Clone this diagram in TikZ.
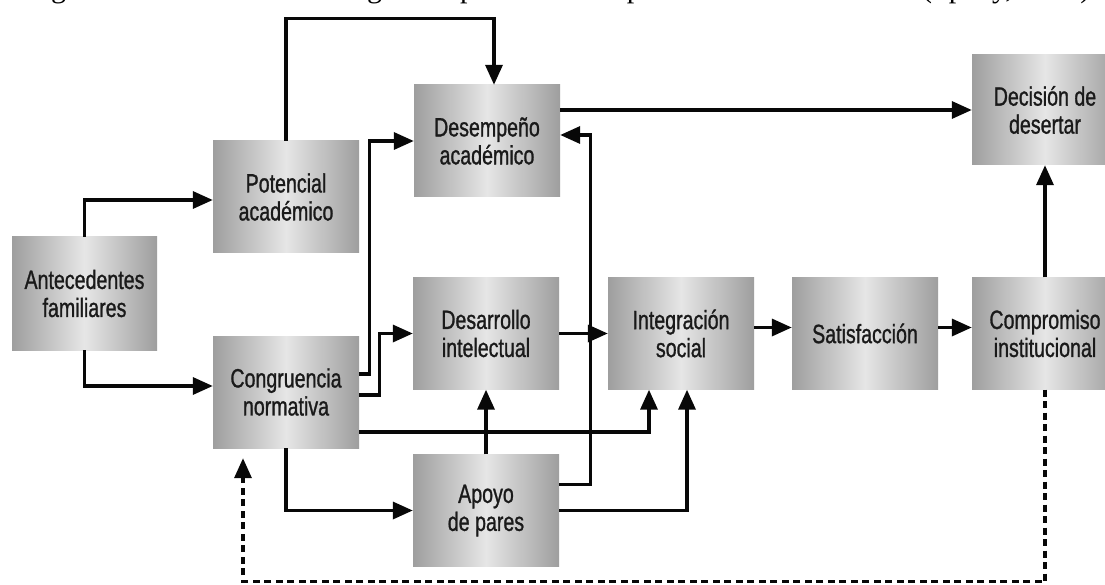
\documentclass[tikz,border=0pt]{standalone}
\usepackage{fontspec}
\setmainfont{Liberation Sans}[FakeStretch=0.74,FakeBold=1.0]
\newfontfamily\capfont{Liberation Serif}
\usetikzlibrary{arrows.meta,calc}
\definecolor{boxdark}{HTML}{9E9E9E}
\definecolor{boxlight}{HTML}{E6E6E6}
\definecolor{textc}{HTML}{1A1A1A}
\definecolor{linec}{HTML}{080808}
\begin{document}
\begin{tikzpicture}[x=1pt,y=-1pt,
  box/.style={minimum width=146pt, minimum height=112pt, inner sep=0pt, align=center,
    left color=boxdark, right color=boxdark, middle color=boxlight, text=textc,
    font=\fontsize{26.5}{28}\selectfont},
  arr/.style={line width=3.4pt, draw=linec, -{Triangle[length=20pt,width=17pt]}},
  darr/.style={arr, dash pattern=on 7pt off 4.5pt},
  captext/.style={anchor=base west, inner sep=0pt, font=\capfont\fontsize{30}{32}\selectfont, text=black}]
\useasboundingbox (0,0) rectangle (1105,585);
\clip (0,0) rectangle (1105,585);
\fill[white] (0,0) rectangle (1105,585);

% clipped caption line (only descenders visible)
\node[captext] (c1) at (26,-2.5) {Figura 2. Modelo de la};
\node[captext] (c2) at (322,-2.5) {integración};
\node[captext] (c3) at (460,-2.5) {proceso};
\node[captext] (c4) at (600,-2.5) {superior en la universidad};
\node[captext] (c5) at (922,-2.5) {(Spady, 1970)};

% boxes
\node[box, minimum width=145pt, minimum height=113pt] (ant) at (84.5,293.5) {Antecedentes\\familiares};
\node[box] (pot) at (286,197) {Potencial\\académico};
\node[box] (con) at (286,392) {Congruencia\\normativa};
\node[box] (des) at (487,141) {Desempeño\\académico};
\node[box] (dev) at (486,333.5) {Desarrollo\\intelectual};
\node[box] (apo) at (486,510.5) {Apoyo\\de pares};
\node[box] (int) at (681,333.5) {Integración\\social};
\node[box] (sat) at (865,333.5) {Satisfacción};
\node[box] (com) at (1045,333.5) {Compromiso\\institucional};
\node[box, minimum height=110pt] (dec) at (1045,110) {Decisión de\\desertar};

% connectors
\draw[arr] (ant.north) |- ([yshift=-3pt]pot.west);
\draw[arr] (ant.south) |- ([yshift=6pt]con.west);
\draw[arr] (pot.north) -- ++(0,-122) -| ([xshift=7pt]des.north);
\draw[arr] ([yshift=18pt]con.east) -- ++(10,0) |- (des.west);
\draw[arr] ([yshift=-3pt]con.east) -- ++(20,0) |- (dev.west);
\draw[arr] ([yshift=-40pt]con.east) -| ([xshift=-32pt]int.south);
\draw[arr] (con.south) |- (apo.west);
\draw[arr] (apo.north) -- (dev.south);
\draw[arr] ([yshift=26pt]apo.east) -- ++(31,0) |- ([yshift=6pt]des.east);
\draw[arr] (apo.east) -| ([xshift=6pt]int.south);
\draw[arr] (dev.east) -- (int.west);
\draw[arr] ([yshift=6pt]int.east) -- ([yshift=6pt]sat.west);
\draw[arr] ([yshift=6pt]sat.east) -- ([yshift=6pt]com.west);
\draw[arr] (com.north) -- (dec.south);
\draw[arr] ([yshift=31pt]des.east) -- (dec.west);
\draw[darr] (com.south) -- ++(0,192) -| ([xshift=-43pt,yshift=-10pt]con.south);
\end{tikzpicture}
\end{document}
